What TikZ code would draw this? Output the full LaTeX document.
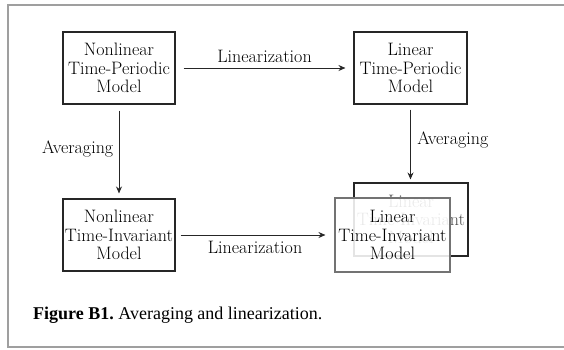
\documentclass[tikz,border=0pt]{standalone}
\usepackage{fontspec}
\usepackage{tikz}
\usetikzlibrary{arrows.meta,positioning}
\newfontfamily\capfont{Liberation Serif}

\tikzset{
  model/.style={draw=black!85,line width=1.1pt,align=center,inner sep=0pt,
    font=\fontsize{18}{18.3}\selectfont},
  flow/.style={draw=black!85,line width=0.9pt,-{Stealth[length=7pt,width=6pt]}},
  lbl/.style={font=\fontsize{18}{18.3}\selectfont}
}

\begin{document}
\begin{tikzpicture}[x=1pt,y=-1pt]
  \useasboundingbox (0,0) rectangle (564,349);
  \draw[gray!75,line width=1.4pt] (8,5) rectangle (568,347);

  % models
  \node[model,minimum width=112pt,minimum height=72pt] (ntp) at (119,68) {Nonlinear\\Time-Periodic\\Model};
  \node[model,minimum width=113pt,minimum height=72pt] (ltp) at (410.5,68) {Linear\\Time-Periodic\\Model};
  \node[model,minimum width=112pt,minimum height=72pt] (nti) at (119,235) {Nonlinear\\Time-Invariant\\Model};
  \node[model,minimum width=114pt,minimum height=73pt,text=black!70] (ltiback) at (411,219.5) {Linear\\Time-Invariant\\Model};
  \node[model,draw=black!55,fill=white,fill opacity=0.88,text opacity=1,minimum width=115pt,minimum height=74pt] (lti) at (392.5,235) {Linear\\Time-Invariant\\Model};

  % arrows
  \draw[flow,shorten <=8pt,shorten >=8pt] (ntp) -- node[lbl,above=2pt] {Linearization} (ltp);
  \draw[flow,shorten <=6pt,shorten >=5pt] (ntp) -- node[lbl,left=2pt,pos=0.47] {Averaging} (nti);
  \draw[flow,shorten <=5pt,shorten >=3pt] (ltp) -- node[lbl,right=3pt,pos=0.45] {Averaging} (ltp |- ltiback.north);
  \draw[flow,shorten <=5pt,shorten >=9pt] (nti) -- node[lbl,below=2pt,pos=0.5] {Linearization} (lti);

  \node[anchor=base west,font=\capfont\fontsize{18}{20}\selectfont,inner sep=0pt] (cap) at (33,319)
    {\frenchspacing\textbf{Figure B1.} Averaging and linearization.};
\end{tikzpicture}
\end{document}
